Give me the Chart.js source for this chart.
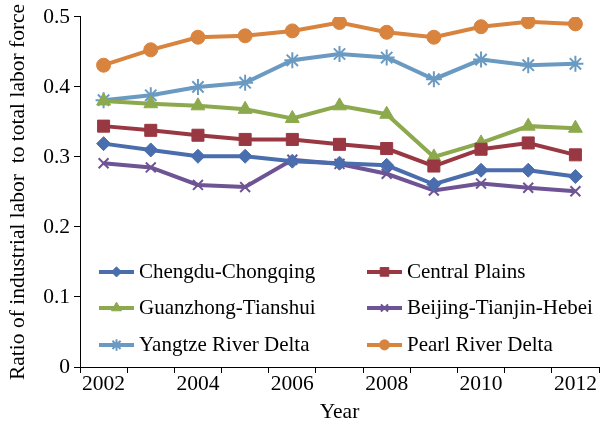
<!DOCTYPE html>
<html>
<head>
<meta charset="utf-8">
<script src="https://cdn.jsdelivr.net/npm/chart.js@4/dist/chart.umd.min.js"></script>
<style>
  html, body { margin: 0; padding: 0; background: #ffffff; }
  #wrap { width: 609px; height: 425px; }
</style>
</head>
<body>
<div id="wrap"><canvas id="c" width="609" height="425"></canvas></div>
<script>
// Years on the horizontal axis
const years = ['2002','2003','2004','2005','2006','2007','2008','2009','2010','2011','2012'];

// Share of industrial labour in total labour force, by region
const chengduChongqing   = [0.319, 0.310, 0.301, 0.301, 0.294, 0.291, 0.288, 0.261, 0.281, 0.281, 0.272];
const centralPlains      = [0.344, 0.338, 0.331, 0.325, 0.325, 0.318, 0.312, 0.287, 0.311, 0.320, 0.303];
const guanzhongTianshui  = [0.380, 0.376, 0.373, 0.368, 0.355, 0.373, 0.361, 0.300, 0.320, 0.344, 0.341];
const beijingTianjinHebei= [0.291, 0.285, 0.260, 0.257, 0.296, 0.290, 0.276, 0.252, 0.262, 0.256, 0.251];
const yangtzeRiverDelta  = [0.381, 0.388, 0.400, 0.406, 0.438, 0.447, 0.442, 0.411, 0.439, 0.431, 0.433];
const pearlRiverDelta    = [0.431, 0.453, 0.471, 0.473, 0.480, 0.492, 0.478, 0.471, 0.486, 0.493, 0.490];

// Y axis ticks
const yTicks = [0, 0.1, 0.2, 0.3, 0.4, 0.5];

const FONT = "'Liberation Serif'";
Chart.defaults.font.family = FONT;
Chart.defaults.color = '#000';

function series(label, data, color, style, radius) {
  return {
    label, data,
    borderColor: color, backgroundColor: color,
    borderWidth: 4,
    pointStyle: style, pointRadius: radius,
    pointBorderColor: color, pointBackgroundColor: color,
    pointBorderWidth: style === 'star' || style === 'crossRot' ? 2 : 1,
    tension: 0, fill: false
  };
}

const datasets = [
  series('Chengdu-Chongqing', chengduChongqing, '#4A6EAD', 'rectRot', 7),
  series('Central Plains', centralPlains, '#993842', 'rect', 8.5),
  series('Guanzhong-Tianshui', guanzhongTianshui, '#8CA94D', 'triangle', 8),
  series('Beijing-Tianjin-Hebei', beijingTianjinHebei, '#6E5494', 'crossRot', 7),
  series('Yangtze River Delta', yangtzeRiverDelta, '#6A9AC2', 'star', 8),
  series('Pearl River Delta', pearlRiverDelta, '#D8843F', 'circle', 7)
];

// Two-column legend drawn inside the plot area
const insideLegend = {
  id: 'insideLegend',
  afterDatasetsDraw(chart) {
    const ctx = chart.ctx;
    const area = chart.chartArea;
    const colX = [area.left + 19, area.left + 287];
    const rowY = [area.top + 255, area.top + 291, area.top + 328];
    const sampleW = 35;
    ctx.save();
    ctx.font = '21px ' + FONT;
    ctx.textBaseline = 'middle';
    ctx.textAlign = 'left';
    chart.data.datasets.forEach((ds, i) => {
      const x = colX[i % 2];
      const y = rowY[Math.floor(i / 2)];
      ctx.strokeStyle = ds.borderColor;
      ctx.lineWidth = 4;
      ctx.beginPath();
      ctx.moveTo(x, y);
      ctx.lineTo(x + sampleW, y);
      ctx.stroke();
      ctx.fillStyle = ds.pointBackgroundColor;
      ctx.strokeStyle = ds.pointBorderColor;
      ctx.lineWidth = ds.pointBorderWidth;
      Chart.helpers.drawPoint(ctx, { pointStyle: ds.pointStyle, radius: ds.pointRadius * 0.72, rotation: 0, borderWidth: ds.pointBorderWidth }, x + sampleW / 2, y);
      ctx.fillStyle = '#000';
      ctx.fillText(ds.label, x + sampleW + 5, y + 1);
    });
    ctx.restore();
  }
};

function build() {
  new Chart(document.getElementById('c'), {
    type: 'line',
    data: { labels: years, datasets },
    plugins: [insideLegend],
    options: {
      responsive: false,
      animation: false,
      layout: { padding: { left: 4, right: 6, top: 6, bottom: 0 } },
      plugins: { legend: { display: false }, tooltip: { enabled: false } },
      scales: {
        x: {
          type: 'category',
          offset: true,
          afterFit: (s) => { s.height = 58; },
          grid: { display: true, offset: true, drawOnChartArea: false, drawTicks: true, tickLength: 6, color: '#000' },
          border: { display: true, color: '#000', width: 1 },
          ticks: {
            autoSkip: false, maxRotation: 0, color: '#000', padding: -2,
            font: { family: FONT, size: 21.5 },
            callback: (v, i) => (i % 2 === 0 ? years[i] : '')
          },
          title: { display: true, text: 'Year', color: '#000', font: { family: FONT, size: 21.5 }, padding: { top: 0, bottom: 0 } }
        },
        y: {
          min: 0, max: 0.5,
          afterFit: (s) => { s.width = 76; },
          afterBuildTicks: (axis) => { axis.ticks = yTicks.map(v => ({ value: v })); },
          grid: { display: true, drawOnChartArea: false, drawTicks: true, tickLength: 6, color: '#000' },
          border: { display: true, color: '#000', width: 1 },
          ticks: {
            color: '#000', padding: 4,
            font: { family: FONT, size: 21.5 },
            callback: (v) => (v === 0 ? '0' : v.toFixed(1))
          },
          title: { display: true, text: 'Ratio of industrial labor  to total labor force', color: '#000', font: { family: FONT, size: 21.5 }, padding: { top: 1, bottom: 2 } }
        }
      }
    }
  });
}

if (document.fonts && document.fonts.load) {
  Promise.all([
    document.fonts.load("21px 'Liberation Serif'"),
    document.fonts.load("22px 'Liberation Serif'")
  ]).then(build, build);
} else {
  build();
}
</script>
</body>
</html>
